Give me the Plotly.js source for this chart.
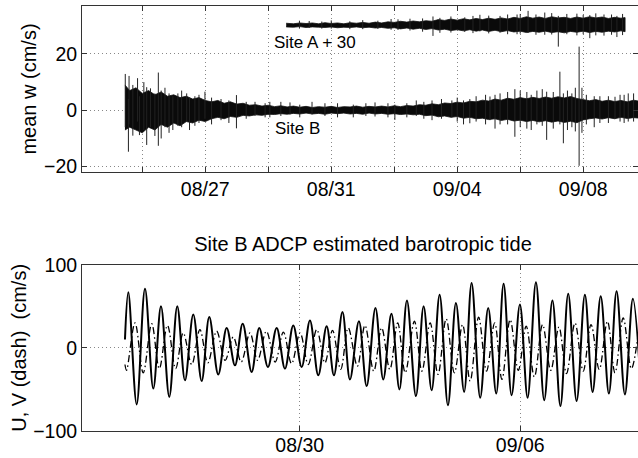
<!DOCTYPE html>
<html>
<head>
<meta charset="utf-8">
<script src="https://cdn.plot.ly/plotly-3.0.1.min.js"></script>
<style>html,body{margin:0;padding:0;background:#fff;}#chart{width:638px;height:458px;}</style>
</head>
<body>
<div id="chart"></div>
<script>
// ---- Time is in days of August (32 = Sep 1) ----
// Top panel: Site B mean w, noise envelope (cm/s)
const siteB_t  = [24.45,24.6,24.8,25.0,25.2,25.4,25.6,25.8,26.0,26.2,26.4,26.6,26.8,27.0,27.2,27.4,27.6,27.8,28.0,28.2,28.4,28.6,28.8,29.0,29.2,29.4,29.6,29.8,30.0,30.2,30.4,30.6,30.8,31.0,31.2,31.4,31.6,31.8,32.0,32.2,32.4,32.6,32.8,33.0,33.2,33.4,33.6,33.8,34.0,34.2,34.4,34.6,34.8,35.0,35.2,35.4,35.6,35.8,36.0,36.2,36.4,36.6,36.8,37.0,37.2,37.4,37.6,37.8,38.0,38.2,38.4,38.6,38.8,39.0,39.2,39.4,39.6,39.8,40.0,40.2,40.4,40.6,40.8];
const siteB_hi = [9,7,8,6,7,5.5,6.5,5,5.5,4.5,5,4,4.5,3.5,3,3.5,2.5,3,2.2,2.5,1.8,2,1.5,1.8,1.3,1.6,1.2,1.5,1.1,1.4,1.0,1.3,1.1,1.4,1.0,1.3,1.2,1.5,1.1,1.4,1.2,1.5,1.2,1.6,1.3,1.7,1.5,2.0,1.8,2.3,2.0,2.6,2.4,2.9,2.6,3.2,3.0,3.6,3.3,4.0,3.6,4.3,3.9,4.5,4.1,4.6,4.2,4.7,4.3,4.8,4.4,4.9,4.2,3.8,3.4,3.8,3.2,3.6,3.1,3.5,3.0,3.6,3.2];
const siteB_lo = [-7,-6,-7,-8,-6,-7,-5,-6,-4.5,-5.5,-4,-4.5,-3.5,-4,-3,-2.5,-3,-2.2,-2.5,-1.8,-2,-1.6,-1.8,-1.4,-1.5,-1.2,-1.4,-1.1,-1.3,-1.0,-1.3,-1.1,-1.4,-1.0,-1.2,-1.0,-1.3,-1.1,-1.4,-1.0,-1.3,-1.1,-1.4,-1.2,-1.5,-1.3,-1.6,-1.4,-1.9,-1.7,-2.3,-2.0,-2.5,-2.2,-2.8,-2.5,-3.0,-2.8,-3.3,-3.0,-3.6,-3.2,-3.8,-3.5,-4.0,-3.6,-4.1,-3.7,-4.2,-3.8,-4.3,-3.9,-4.4,-3.4,-3.0,-2.7,-3.1,-2.6,-3.0,-2.5,-2.9,-2.6,-2.8];
// Site B spikes
const spikeB_t  = [24.46,24.56,24.58,24.85,24.91,25.14,25.26,25.40,25.51,25.72,25.97,26.13,26.41,26.67,26.99,27.99,28.58,29.05,29.69,30.39,32.39,33.02,33.94,34.83,35.40,36.04,36.36,36.83,37.21,37.53,37.84,38.26,38.37,38.64,38.87,38.96,39.53,40.01,40.17,40.43,
                   24.7,25.05,25.6,25.85,26.25,26.5,26.8,27.2,27.5,27.75,28.3,28.9,29.4,30.0,30.8,31.2,31.7,32.1,32.8,33.4,33.7,34.2,34.5,35.0,35.2,35.6,35.9,36.2,36.6,37.0,37.35,37.7,38.05,38.5,38.75,39.1,39.35,39.8,40.3,40.6];
const spikeB_hi = [12.9,4,12.2,11.4,5,8.2,7.8,6,13.4,8,5,6,6,5,6.6,5.4,3,3,2.8,3,2.8,2,3,3.5,4,4.9,6,7.5,6.5,7,6.6,13.7,6,6,22.6,8,5,4.8,5.5,6,
                   9,10,7,6,7,4.5,5.5,4.5,4,3.5,3,2.5,3,2,2.5,2.5,2,2.5,2.5,2.5,3.5,3.5,4,4.5,3.5,5,5.5,5.5,6.5,7,5.5,7.5,6.5,7,8,5.5,5,5,5.5,6];
const spikeB_lo = [-6,-14.7,-5,-4,-8.8,-12.3,-6,-9.1,-12.6,-6,-7,-5.5,-4,-5.5,-3,-6.4,-2,-2.5,-1.5,-1.5,-2.2,-3.4,-3,-2.5,-4.6,-3.5,-5,-9.4,-6.5,-5,-10.5,-5,-11.7,-6,-19.7,-8,-4.5,-3,-4,-4,
                   -9,-7,-10,-8,-6,-7,-4.5,-5,-3.5,-4.5,-3,-2.5,-2,-2.5,-2,-2.5,-2.5,-2,-2.5,-2.5,-2,-3.5,-3,-4,-5,-4,-5,-6.5,-5,-6,-7,-5.5,-6.5,-7,-7.5,-5,-6,-4.5,-4.5,-4];
// Site A (+30) envelope
const siteA_t  = [29.57,29.8,30.0,30.2,30.4,30.6,30.8,31.0,31.2,31.4,31.6,31.8,32.0,32.2,32.4,32.6,32.8,33.0,33.2,33.4,33.6,33.8,34.0,34.2,34.4,34.6,34.8,35.0,35.2,35.4,35.6,35.8,36.0,36.2,36.4,36.6,36.8,37.0,37.2,37.4,37.6,37.8,38.0,38.2,38.4,38.6,38.8,39.0,39.2,39.4,39.6,39.8,40.0,40.2,40.33];
const siteA_hi = [30.9,30.7,31.0,30.8,31.0,30.7,31.1,30.8,31.0,30.7,31.1,30.9,31.2,30.9,31.3,31.0,31.4,31.2,31.6,31.3,31.7,31.4,31.8,31.6,32.2,31.9,32.4,32.0,32.5,32.1,32.6,32.2,32.7,32.3,32.8,32.4,33.0,32.6,33.2,32.7,33.1,32.6,33.2,32.8,33.0,32.6,33.1,32.7,33.2,32.8,33.1,32.6,33.0,32.7,32.9];
const siteA_lo = [29.6,29.5,29.7,29.4,29.6,29.5,29.4,29.6,29.3,29.5,29.4,29.6,29.3,29.5,29.2,29.4,29.1,29.3,28.9,29.2,28.8,29.1,28.7,29.0,28.5,28.8,28.3,28.6,28.2,28.6,28.1,28.5,28.0,28.4,27.9,28.3,27.8,28.1,27.6,28.0,27.7,28.1,27.6,27.9,27.5,28.0,27.7,28.1,27.6,28.0,27.7,28.1,27.8,28.2,27.9];
const spikeA_t  = [29.99,30.7,31.59,32.48,33.12,34.23,34.45,35.24,35.72,36.36,36.9,37.25,37.78,38.21,38.48,39.21,39.66,40.07,
                   30.3,31.0,32.0,32.9,33.5,33.9,34.8,35.5,36.0,36.6,37.0,37.5,38.0,38.8,39.0,39.4,39.9,40.25];
const spikeA_hi = [31.8,31.5,31.6,31.8,32.3,33.3,32.8,33.0,33.9,33.5,34,35.3,34.7,33.5,34.2,33.8,34,33.5,
                   31.7,31.9,32.0,32.4,32.5,32.6,33.3,33.5,33.6,34.0,34.2,34.0,34.5,34.3,33.9,34.4,34.0,34.2];
const spikeA_lo = [29,29,28.8,28.9,28.5,26.4,27.5,27.8,28,27.5,27,27.5,26.8,22.6,27,25.6,26.5,26,
                   29.2,29.0,28.8,28.6,28.3,27.9,27.6,27.4,27.3,27.0,27.2,26.8,26.9,26.6,27.0,26.6,26.8,26.7];

// Bottom panel: barotropic tide extrema (cm/s)
const U_t = [24.45,24.556,24.822,25.086,25.35,25.594,25.857,26.111,26.356,26.619,26.886,27.127,27.413,27.68,27.943,28.188,28.473,28.715,28.99,29.267,29.53,29.794,30.061,30.324,30.588,30.854,31.086,31.356,31.594,31.879,32.124,32.403,32.651,32.911,33.165,33.403,33.689,33.933,34.188,34.441,34.705,34.959,35.219,35.457,35.73,35.984,36.239,36.473,36.727,36.99,37.235,37.499,37.762,38.023,38.277,38.524,38.791,39.054,39.299,39.556,39.816,40.06,40.324,40.578,40.84];
const U_v = [10,67,-68,71,-49,50,-59,50,-39,40,-40,37,-32,24,-21,29,-29,24,-23,24,-25,27,-23,33,-33,26,-33,43,-38,32,-46,48,-38,41,-50,57,-58,50,-51,64,-69,54,-53,78,-60,48,-55,77,-57,52,-60,79,-63,57,-70,65,-64,64,-53,62,-55,68,-56,59,-55];
const V_t = [24.45,24.50,24.77,25.03,25.30,25.54,25.80,26.06,26.30,26.57,26.83,27.08,27.36,27.63,27.89,28.14,28.42,28.66,28.94,29.22,29.48,29.74,30.01,30.27,30.54,30.80,31.04,31.30,31.54,31.83,32.07,32.35,32.60,32.86,33.11,33.35,33.64,33.88,34.14,34.39,34.65,34.91,35.17,35.41,35.68,35.93,36.19,36.42,36.68,36.94,37.19,37.45,37.71,37.97,38.23,38.47,38.74,39.00,39.25,39.51,39.77,40.01,40.27,40.53,40.79];
const V_v = [-20,-27,30,-30,29,-25,27,-25,18,-20,22,-18,20,-15,13,-17,18,-15,20,-17,19,-19,18,-20,22,-18,21,-26,24,-22,27,-28,24,-26,30,-30,32,-28,30,-32,35,-30,28,-40,37,-28,30,-38,34,-27,26,-35,28,-27,25,-31,30,-28,28,-26,32,-30,36,-25,30];

// Tick labels
const top_tickvals = [25,27,29,31,33,35,37,39];
const top_ticktext = ['','08/27','','08/31','','09/04','','09/08'];
const bot_tickvals = [30,37];
const bot_ticktext = ['08/30','09/06'];

const FONT = 'Liberation Sans, Arial, Helvetica, sans-serif';

function band(t, hi, lo, xa, ya) {
  return {x: t.concat(t.slice().reverse()), y: hi.concat(lo.slice().reverse()),
    xaxis: xa, yaxis: ya, mode: 'lines', fill: 'toself', fillcolor: '#0a0a0a',
    line: {color: '#111', width: 0.8}, hoverinfo: 'skip'};
}
function spikes(t, hi, lo, xa, ya) {
  const x = [], y = [];
  for (let i = 0; i < t.length; i++) { x.push(t[i], t[i], null); y.push(lo[i], hi[i], null); }
  return {x, y, xaxis: xa, yaxis: ya, mode: 'lines', line: {color: '#222', width: 1}, hoverinfo: 'skip'};
}

const traces = [
  band(siteB_t, siteB_hi, siteB_lo, 'x', 'y'),
  spikes(spikeB_t, spikeB_hi, spikeB_lo, 'x', 'y'),
  band(siteA_t, siteA_hi, siteA_lo, 'x', 'y'),
  spikes(spikeA_t, spikeA_hi, spikeA_lo, 'x', 'y'),
  {x: U_t, y: U_v, xaxis: 'x2', yaxis: 'y2', mode: 'lines',
   line: {color: '#000', width: 2, shape: 'spline', smoothing: 1}},
  {x: V_t, y: V_v, xaxis: 'x2', yaxis: 'y2', mode: 'lines',
   line: {color: '#000', width: 1.3, shape: 'spline', smoothing: 1, dash: '7px,3px,1.5px,3px'}}
];

const axisCommon = {
  ticks: 'inside', ticklen: 5, tickcolor: '#333', showline: true, linecolor: '#333', linewidth: 1,
  mirror: 'ticks', showgrid: true, gridcolor: '#888', griddash: '1px,3px', gridwidth: 1,
  zeroline: false, tickfont: {family: FONT, size: 19.5, color: '#000'}, tickmode: 'array'
};

const xRange = [23.086, 40.74];
const layout = {
  width: 638, height: 458,
  margin: {l: 82, r: 0, t: 6, b: 27},
  paper_bgcolor: '#fff', plot_bgcolor: '#fff',
  showlegend: false,
  font: {family: FONT, color: '#000'},
  title: {text: 'Site B ADCP estimated barotropic tide', font: {family: FONT, size: 20, color: '#000'},
          xref: 'paper', x: 0.5054, xanchor: 'center', yref: 'container', y: 1 - 244/458, yanchor: 'middle'},
  xaxis: Object.assign({}, axisCommon, {domain: [0, 1], anchor: 'y', range: xRange,
          tickvals: top_tickvals, ticktext: top_ticktext}),
  yaxis: Object.assign({}, axisCommon, {domain: [0.6094, 1], anchor: 'x', range: [-21.9, 37.02],
          tickvals: [-20, 0, 20], ticktext: ['\u221220', '0', '20'],
          title: {text: 'mean w (cm/s)', font: {family: FONT, size: 20, color: '#000'}, standoff: 2}}),
  xaxis2: Object.assign({}, axisCommon, {domain: [0, 1], anchor: 'y2', range: xRange,
          tickvals: bot_tickvals, ticktext: bot_ticktext, ticklabelstandoff: -3}),
  yaxis2: Object.assign({}, axisCommon, {domain: [0, 0.3913], anchor: 'x2', range: [-100, 100],
          tickvals: [-100, 0, 100], ticktext: ['\u2212100', '0', '100'],
          title: {text: 'U, V (dash)\u00a0 (cm/s)', font: {family: FONT, size: 20, color: '#000'}, standoff: 1}}),
  annotations: [
    {text: 'Site A + 30', x: 29.11, y: 23.9, xref: 'x', yref: 'y', xanchor: 'left', yanchor: 'middle',
     showarrow: false, font: {family: FONT, size: 17, color: '#000'}},
    {text: 'Site B', x: 29.16, y: -6.5, xref: 'x', yref: 'y', xanchor: 'left', yanchor: 'middle',
     showarrow: false, font: {family: FONT, size: 17, color: '#000'}}
  ]
};

Plotly.newPlot('chart', traces, layout, {staticPlot: true, displayModeBar: false});
</script>
</body>
</html>
